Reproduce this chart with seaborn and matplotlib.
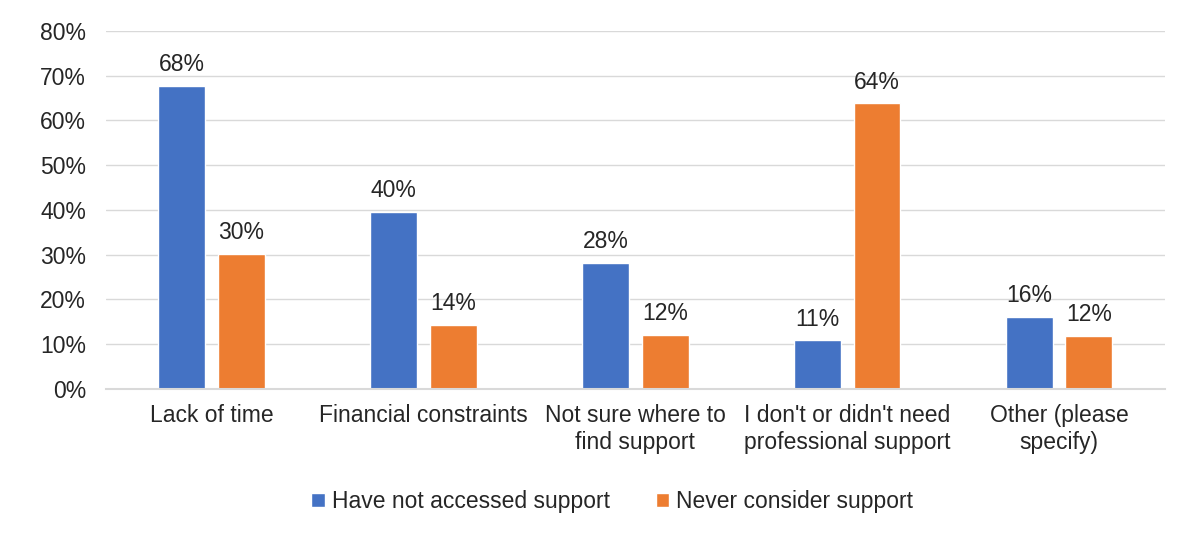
import pandas as pd
import matplotlib.pyplot as plt
import seaborn as sns

# ---- data ----
categories = [
    "Lack of time",
    "Financial constraints",
    "Not sure where to\nfind support",
    "I don't or didn't need\nprofessional support",
    "Other (please\nspecify)",
]
not_accessed = [67.7, 39.6, 28.2, 10.8, 16.1]
never_consider = [30.1, 14.3, 12.1, 63.8, 11.8]
series_names = ["Have not accessed support", "Never consider support"]
colors = ["#4472C4", "#ED7D31"]

df = pd.DataFrame({
    "category": categories * 2,
    "value": not_accessed + never_consider,
    "series": [series_names[0]] * len(categories) + [series_names[1]] * len(categories),
})

sns.set_theme(style="white")
plt.rcParams["font.family"] = ["Liberation Sans", "DejaVu Sans"]

fig, ax = plt.subplots(figsize=(12, 5.34), dpi=100)
fig.subplots_adjust(left=0.088, right=0.971, top=0.942, bottom=0.272)

sns.barplot(data=df, x="category", y="value", hue="series", palette=colors,
            width=0.56, gap=0.21, ax=ax, saturation=1)

for container in ax.containers:
    ax.bar_label(container, labels=[f"{v:.0f}%" for v in container.datavalues],
                 padding=7, fontsize=16.5, color="#262626")

ax.set_ylim(0, 80)
ax.set_yticks(range(0, 81, 10))
ax.set_yticklabels([f"{t}%" for t in range(0, 81, 10)])
ax.yaxis.grid(True, color="#D9D9D9", linewidth=1)
ax.set_axisbelow(True)
for side in ["top", "right", "left"]:
    ax.spines[side].set_visible(False)
ax.spines["bottom"].set_color("#D9D9D9")
ax.spines["bottom"].set_linewidth(1.5)
ax.tick_params(axis="both", length=0, labelsize=16.5, colors="#262626")
ax.tick_params(axis="y", pad=14)
ax.tick_params(axis="x", pad=11)
ax.set_xlabel("")
ax.set_ylabel("")

# legend sits a little left of the axes centre, as in the original
ax.legend(loc="upper center", bbox_to_anchor=(0.478, -0.225), ncol=2, frameon=False,
          fontsize=16.5, handlelength=0.6, handleheight=0.6, handletextpad=0.3,
          columnspacing=2.0, labelcolor="#262626")

plt.savefig("out.png", dpi=100)
